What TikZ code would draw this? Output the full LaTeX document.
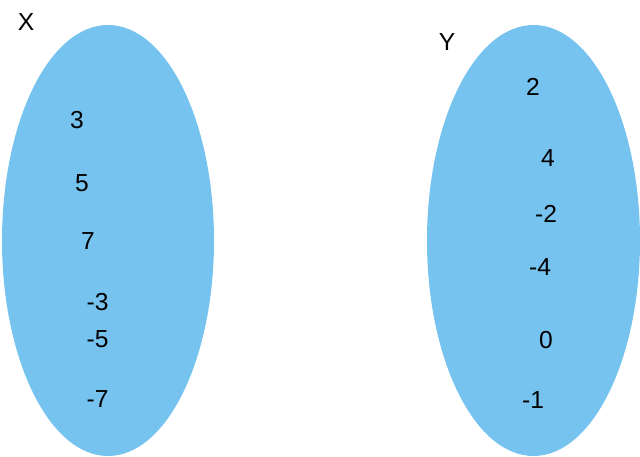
\documentclass[tikz,border=0pt]{standalone}
\usepackage{fontspec}
\setmainfont{Liberation Sans}
\definecolor{mengeblau}{RGB}{118,195,240}
\begin{document}
\begin{tikzpicture}[x=0.025cm,y=-0.025cm,
  menge/.style={fill=mengeblau,draw=none},
  zahl/.style={inner sep=0pt,font=\fontsize{17.5}{20}\selectfont}]

\useasboundingbox (0,0) rectangle (640,457);

%Mengen
\fill[menge] (108,240.5) ellipse (106 and 215.5);
\fill[menge] (533.5,240.5) ellipse (106.5 and 215.5);

%Beschriftung
\node[zahl] (X) at (26,22) {X};
\node[zahl] (Y) at (447,42) {Y};

\node[zahl] (x1) at (77,120) {3};
\node[zahl] (x2) at (82,183) {5};
\node[zahl] (x3) at (88,241) {7};
\node[zahl] (x4) at (97.5,302) {-3};
\node[zahl] (x5) at (97.5,339) {-5};
\node[zahl] (x6) at (97.5,399) {-7};

\node[zahl] (y1) at (533,87) {2};
\node[zahl] (y2) at (548,158) {4};
\node[zahl] (y3) at (546,214) {-2};
\node[zahl] (y4) at (540,267) {-4};
\node[zahl] (y5) at (546,340) {0};
\node[zahl] (y6) at (533,400) {-1};

\end{tikzpicture}
\end{document}
